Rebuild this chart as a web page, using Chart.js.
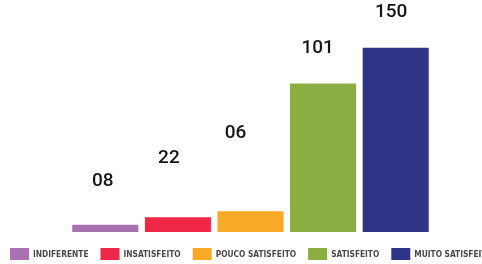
<!DOCTYPE html>
<html><head><meta charset="utf-8">
<script src="https://cdn.jsdelivr.net/npm/chart.js@4"></script>
<style>html,body{margin:0;padding:0;background:#fff;overflow:hidden}#wrap{width:482px;height:264px;position:relative}</style>
</head><body><div id="wrap"><canvas id="c" width="482" height="264"></canvas></div>
<script>
const categories = ['INDIFERENTE', 'INSATISFEITO', 'POUCO SATISFEITO', 'SATISFEITO', 'MUITO SATISFEITO'];
const barValues = [6, 12, 17, 121, 150];
const valueLabels = ['08', '22', '06', '101', '150'];
const colors = ['#a872b0', '#ee2746', '#f8a928', '#8bad41', '#2e3486'];

// placement of the value labels (y level in axis units, x shift in px)
const labelLevels = [37.5, 56, 76.5, 146, 175];
const labelShift = [-2.5, -9, -15, -5.5, -4.5];

const valueLabelPlugin = {
  id: 'valueLabels',
  afterDatasetsDraw(chart) {
    const ctx = chart.ctx, xs = chart.scales.x, ys = chart.scales.y;
    ctx.save();
    ctx.font = '500 19px Roboto';
    ctx.fillStyle = '#161616';
    ctx.textAlign = 'center';
    ctx.textBaseline = 'alphabetic';
    valueLabels.forEach((t, i) => {
      ctx.fillText(t, xs.getPixelForValue(i) + labelShift[i], ys.getPixelForValue(labelLevels[i]));
    });
    ctx.restore();
  }
};

const legendPlugin = {
  id: 'customLegend',
  afterDraw(chart) {
    const ctx = chart.ctx;
    ctx.save();
    ctx.font = 'bold 8.3px "DejaVu Sans Condensed"';
    ctx.textBaseline = 'middle';
    ctx.textAlign = 'left';
    let x = 10;
    const top = 248, bw = 19, bh = 12;
    categories.forEach((c, i) => {
      ctx.fillStyle = colors[i];
      ctx.fillRect(x, top, bw, bh);
      ctx.fillStyle = '#4a4a4a';
      ctx.fillText(c, x + bw + 4, top + bh / 2 + 0.5);
      x += bw + 4 + ctx.measureText(c).width + 12;
    });
    ctx.restore();
  }
};

new Chart(document.getElementById('c'), {
  type: 'bar',
  data: {
    labels: categories,
    datasets: [{
      data: barValues,
      backgroundColor: colors,
      borderWidth: 0,
      categoryPercentage: 1,
      barPercentage: 0.91
    }]
  },
  options: {
    responsive: false,
    animation: false,
    devicePixelRatio: 1,
    layout: { padding: { left: 69, right: 50, top: 0, bottom: 32 } },
    plugins: { legend: { display: false }, tooltip: { enabled: false } },
    scales: {
      x: { display: false, grid: { display: false } },
      y: { display: false, min: 0, max: 189, grid: { display: false } }
    }
  },
  plugins: [valueLabelPlugin, legendPlugin]
});
</script>
</body></html>
